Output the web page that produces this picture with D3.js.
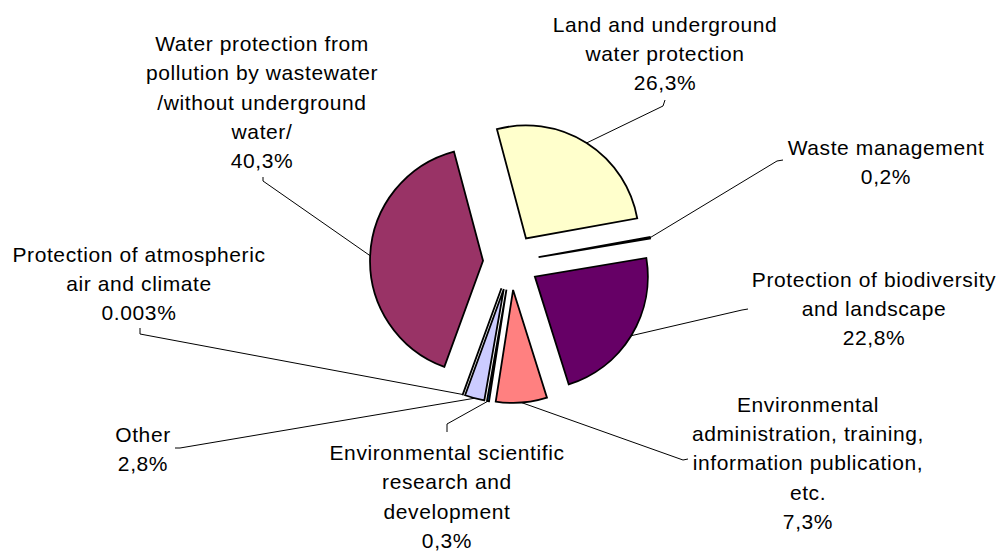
<!DOCTYPE html>
<html>
<head>
<meta charset="utf-8">
<script src="https://cdn.jsdelivr.net/npm/d3@7"></script>
<style>
  html, body { margin: 0; padding: 0; background: #ffffff; }
  svg { display: block; }
  text { font-family: Arial, "Liberation Sans", sans-serif; font-size: 21px; letter-spacing: 0.6px; fill: #000; }
</style>
</head>
<body>
<svg id="chart" width="1005" height="554"></svg>
<script>
// Environmental expenditure by domain (share of total, %)
const categories = [
  "Protection of atmospheric air and climate",
  "Water protection from pollution by wastewater /without underground water/",
  "Land and underground water protection",
  "Waste management",
  "Protection of biodiversity and landscape",
  "Environmental administration, training, information publication, etc.",
  "Environmental scientific research and development",
  "Other"
];
const shares = [0.003, 40.3, 26.3, 0.2, 22.8, 7.3, 0.3, 2.8];
const shareLabels = ["0.003%", "40,3%", "26,3%", "0,2%", "22,8%", "7,3%", "0,3%", "2,8%"];
const labelLines = [
  ["Protection of atmospheric", "air and climate"],
  ["Water protection from", "pollution by wastewater", "/without underground", "water/"],
  ["Land and underground", "water protection"],
  ["Waste management"],
  ["Protection of biodiversity", "and landscape"],
  ["Environmental", "administration, training,", "information publication,", "etc."],
  ["Environmental scientific", "research and", "development"],
  ["Other"]
];
const sliceColors = ["#9999FF", "#993366", "#FFFFCC", "#CCFFFF", "#660066", "#FF8080", "#0066CC", "#CCCCFF"];

// Layout
const cx = 511, cy = 262;
const radius = 113;
const explode = 28;
const firstSliceAngle = 200; // degrees, clockwise from 12 o'clock
const lineGap = 29.3;

// label block: centre x, first baseline y, leader hook near the text
const labelLayout = [
  { x: 139, y: 261.5, hook: [[140, 328], [140, 334]] },
  { x: 262, y: 51,    hook: [[263, 177], [263, 181]] },
  { x: 665, y: 31.7,  hook: [[665, 100], [663, 106]] },
  { x: 886, y: 155,   hook: [[783, 160], [777, 161]] },
  { x: 874, y: 286.7, hook: [[748, 309], [742, 310]] },
  { x: 808, y: 411.7, hook: [[688, 459], [683, 460]] },
  { x: 447, y: 460,   hook: [[447, 432], [447, 424]] },
  { x: 143, y: 441.7, hook: [[175, 448], [180, 448]] }
];

const svg = d3.select("#chart");
const toRad = d => d * Math.PI / 180;

const pie = d3.pie()
  .sort(null)
  .value(d => d)
  .startAngle(toRad(firstSliceAngle))
  .endAngle(toRad(firstSliceAngle + 360));

const arcs = pie(shares);
const arc = d3.arc().innerRadius(0).outerRadius(radius);

const offsetOf = a => {
  const mid = (a.startAngle + a.endAngle) / 2;
  return [explode * Math.sin(mid), -explode * Math.cos(mid)];
};

// leader lines (drawn under slices)
const leaders = svg.append("g").attr("class", "leaders");
arcs.forEach((a, i) => {
  const [ox, oy] = offsetOf(a);
  const mid = (a.startAngle + a.endAngle) / 2;
  const end = [cx + ox + radius * Math.sin(mid), cy + oy - radius * Math.cos(mid)];
  const pts = labelLayout[i].hook.concat([end]);
  leaders.append("path")
    .attr("d", d3.line()(pts))
    .attr("fill", "none")
    .attr("stroke", "#000")
    .attr("stroke-width", 1);
});

// slices
const slices = svg.append("g").attr("class", "slices");
arcs.forEach((a, i) => {
  const [ox, oy] = offsetOf(a);
  slices.append("path")
    .attr("transform", `translate(${cx + ox},${cy + oy})`)
    .attr("d", arc(a))
    .attr("fill", sliceColors[i])
    .attr("stroke", "#000")
    .attr("stroke-width", 1.8)
    .attr("stroke-linejoin", "miter");
});

// data labels
const labels = svg.append("g").attr("class", "labels");
arcs.forEach((a, i) => {
  const L = labelLayout[i];
  const t = labels.append("text").attr("text-anchor", "middle");
  labelLines[i].concat([shareLabels[i]]).forEach((s, k) => {
    t.append("tspan").attr("x", L.x).attr("y", L.y + k * lineGap).text(s);
  });
});
</script>
</body>
</html>
